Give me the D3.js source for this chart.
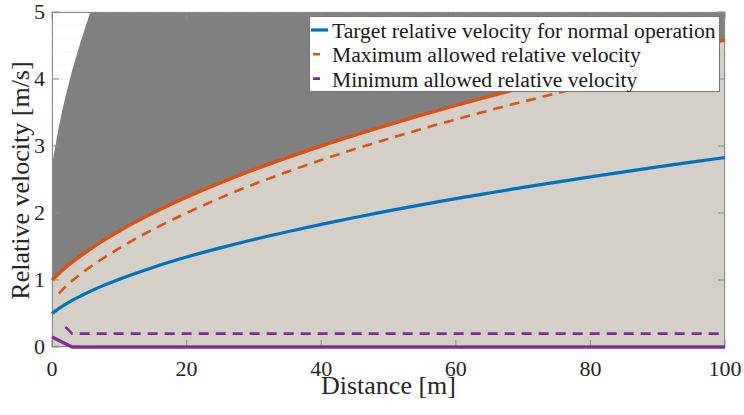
<!DOCTYPE html>
<html><head><meta charset="utf-8"><script src="https://cdn.jsdelivr.net/npm/d3@7"></script>
<style>
  text { font-family: "Liberation Serif" !important; }
</style>
</head>
<body style="margin:0">
<svg id="chart" width="744" height="415" font-family="Liberation Serif" style="font-family: 'Liberation Serif'"></svg>
<script>
// Distance samples [m]
const distance = [0, 1, 2, 3, 4, 5, 7.5, 10, 15, 20, 25, 30, 35, 40, 45, 50, 55, 60, 65, 70, 75, 80, 85, 90, 95, 100];
// Target relative velocity for normal operation [m/s]
const targetVel = [0.5, 0.572, 0.636, 0.695, 0.748, 0.798, 0.912, 1.012, 1.188, 1.342, 1.479, 1.605, 1.721, 1.830, 1.933, 2.031, 2.124, 2.214, 2.299, 2.382, 2.462, 2.540, 2.615, 2.688, 2.759, 2.828];
// Upper limit of the allowed band (solid) [m/s]
const maxSolidVel = [1.0, 1.095, 1.183, 1.265, 1.342, 1.414, 1.581, 1.732, 2.0, 2.236, 2.449, 2.646, 2.828, 3.0, 3.162, 3.317, 3.464, 3.606, 3.742, 3.873, 4.0, 4.123, 4.243, 4.359, 4.472, 4.583];
// Maximum allowed relative velocity (dashed), defined from 1 m on
const maxDashDist = [1, 2, 3, 4, 5, 7.5, 10, 15, 20, 25, 30, 35, 40, 45, 50, 55, 60, 65, 70, 75, 80, 85, 90, 95, 100];
const maxDashVel = [0.797, 0.900, 0.990, 1.070, 1.145, 1.318, 1.475, 1.755, 2.000, 2.225, 2.430, 2.615, 2.790, 2.955, 3.108, 3.255, 3.397, 3.532, 3.662, 3.788, 3.910, 4.028, 4.143, 4.255, 4.365];
// Minimum allowed relative velocity: dashed and solid
const minDashDist = [2, 3, 100];
const minDashVel = [0.3, 0.2, 0.2];
const minSolidDist = [0, 3, 100];
const minSolidVel = [0.15, 0, 0];
// Left edge of the dark (unreachable) region
const edgeDist = [0, 0.5, 1, 1.5, 2, 3, 4, 5, 5.7];
const edgeVel = [2.72, 3.0, 3.28, 3.52, 3.74, 4.13, 4.47, 4.79, 5.0];

const xTicks = [0, 20, 40, 60, 80, 100];
const yTicks = [0, 1, 2, 3, 4, 5];
const xMinor = d3.range(0, 101, 5);
const yMinor = d3.range(0, 5.001, 0.2);

const legendLabels = [
  "Target relative velocity for normal operation",
  "Maximum allowed relative velocity",
  "Minimum allowed relative velocity"
];

const colors = { blue: "#0072BD", orange: "#D95319", purple: "#7E2F8E" };
const serif = "Liberation Serif";

const svg = d3.select("#chart");
const m = { left: 52, right: 725, top: 12, bottom: 347 };

const x = d3.scaleLinear().domain([0, 100]).range([m.left, m.right]);
const y = d3.scaleLinear().domain([0, 5]).range([m.bottom, m.top]);

const zip = (xs, ys) => xs.map((d, i) => [d, ys[i]]);

// Plot background
svg.append("rect")
  .attr("x", m.left).attr("y", m.top)
  .attr("width", m.right - m.left).attr("height", m.bottom - m.top)
  .attr("fill", "#fff");

// Grid: minor dotted, major solid
const grid = svg.append("g");
yMinor.forEach(v => grid.append("line")
  .attr("x1", m.left).attr("x2", m.right).attr("y1", y(v)).attr("y2", y(v))
  .attr("stroke", "#e4e4e4").attr("stroke-width", 0.8).attr("stroke-dasharray", "1,2"));
xMinor.forEach(v => grid.append("line")
  .attr("y1", m.top).attr("y2", m.bottom).attr("x1", x(v)).attr("x2", x(v))
  .attr("stroke", "#e4e4e4").attr("stroke-width", 0.8).attr("stroke-dasharray", "1,2"));
yTicks.forEach(v => grid.append("line")
  .attr("x1", m.left).attr("x2", m.right).attr("y1", y(v)).attr("y2", y(v))
  .attr("stroke", "#e0e0e0").attr("stroke-width", 0.8));
xTicks.forEach(v => grid.append("line")
  .attr("y1", m.top).attr("y2", m.bottom).attr("x1", x(v)).attr("x2", x(v))
  .attr("stroke", "#e0e0e0").attr("stroke-width", 0.8));

// Dark region: from the left edge curve, along the top, back down the upper limit
const line = d3.line().x(d => x(d[0])).y(d => y(d[1]));
const darkPts = zip(edgeDist, edgeVel)
  .concat([[100, 5]])
  .concat(zip(distance, maxSolidVel).reverse());
svg.append("path")
  .attr("d", line(darkPts) + "Z")
  .attr("fill", "#808080");

// Allowed band below the upper limit
svg.append("path")
  .datum(zip(distance, maxSolidVel))
  .attr("d", d3.area().x(d => x(d[0])).y0(y(0)).y1(d => y(d[1])))
  .attr("fill", "#d4d0c8");

// Axes box and inward ticks
const axisColor = "#8a8a8a";
const tickLen = 7;
const ticks = svg.append("g").attr("stroke", axisColor).attr("stroke-width", 1);
xTicks.forEach(v => {
  ticks.append("line").attr("x1", x(v)).attr("x2", x(v)).attr("y1", m.bottom).attr("y2", m.bottom - tickLen);
  ticks.append("line").attr("x1", x(v)).attr("x2", x(v)).attr("y1", m.top).attr("y2", m.top + tickLen);
});
yTicks.forEach(v => {
  ticks.append("line").attr("y1", y(v)).attr("y2", y(v)).attr("x1", m.left).attr("x2", m.left + tickLen);
  ticks.append("line").attr("y1", y(v)).attr("y2", y(v)).attr("x1", m.right).attr("x2", m.right - tickLen);
});
svg.append("rect")
  .attr("x", m.left + 0.5).attr("y", m.top + 0.5)
  .attr("width", m.right - m.left - 1).attr("height", m.bottom - m.top - 1)
  .attr("fill", "none").attr("stroke", axisColor).attr("stroke-width", 1);

// Curves
const curve = d3.line().x(d => x(d[0])).y(d => y(d[1])).curve(d3.curveMonotoneX);
const dash = "10,7";
svg.append("path").datum(zip(maxDashDist, maxDashVel)).attr("d", curve)
  .attr("fill", "none").attr("stroke", colors.orange).attr("stroke-width", 2.6).attr("stroke-dasharray", dash);
svg.append("path").datum(zip(distance, maxSolidVel)).attr("d", curve)
  .attr("fill", "none").attr("stroke", colors.orange).attr("stroke-width", 3.5);
svg.append("path").datum(zip(distance, targetVel)).attr("d", curve)
  .attr("fill", "none").attr("stroke", colors.blue).attr("stroke-width", 3.2);
svg.append("path").datum(zip(minDashDist, minDashVel)).attr("d", line)
  .attr("fill", "none").attr("stroke", colors.purple).attr("stroke-width", 2.6).attr("stroke-dasharray", dash);
svg.append("path").datum(zip(minSolidDist, minSolidVel)).attr("d", line)
  .attr("fill", "none").attr("stroke", colors.purple).attr("stroke-width", 3.4);

// Tick labels
svg.selectAll("text.xt").data(xTicks).join("text").attr("class", "xt")
  .attr("x", d => x(d)).attr("y", 376).attr("text-anchor", "middle")
  .attr("fill", "#262626").attr("font-size", 22).attr("font-family", serif)
  .text(d => d);
svg.selectAll("text.yt").data(yTicks).join("text").attr("class", "yt")
  .attr("x", 45).attr("y", d => y(d) + 7).attr("text-anchor", "end")
  .attr("fill", "#262626").attr("font-size", 22).attr("font-family", serif)
  .text(d => d);

// Axis titles
svg.append("text")
  .attr("x", (m.left + m.right) / 2).attr("y", 394)
  .attr("text-anchor", "middle").attr("fill", "#262626").attr("font-size", 26)
  .attr("font-family", serif)
  .text("Distance [m]");
svg.append("text")
  .attr("transform", `translate(29, ${(m.top + m.bottom) / 2 + 1}) rotate(-90)`)
  .attr("text-anchor", "middle").attr("fill", "#262626").attr("font-size", 26)
  .attr("font-family", serif)
  .text("Relative velocity [m/s]");

// Legend
svg.append("rect")
  .attr("x", 309.5).attr("y", 16.5).attr("width", 410).attr("height", 75)
  .attr("fill", "#fff").attr("stroke", "#777").attr("stroke-width", 1);
const legendStyle = [
  { color: colors.blue, dashArr: null, width: 3.2 },
  { color: colors.orange, dashArr: "0,2,7,30", width: 2.6 },
  { color: colors.purple, dashArr: "0,2,7,30", width: 2.6 }
];
legendStyle.forEach((s, i) => {
  const ln = svg.append("line")
    .attr("x1", 311).attr("x2", 328).attr("y1", 30 + i * 24.3).attr("y2", 30 + i * 24.3)
    .attr("stroke", s.color).attr("stroke-width", s.width);
  if (s.dashArr) ln.attr("stroke-dasharray", s.dashArr);
});
svg.selectAll("text.lg").data(legendLabels).join("text").attr("class", "lg")
  .attr("x", 332).attr("y", (d, i) => 38 + i * 24.3)
  .attr("fill", "#1a1a1a").attr("font-size", 21.6).attr("font-family", serif)
  .text(d => d);
</script></body></html>
